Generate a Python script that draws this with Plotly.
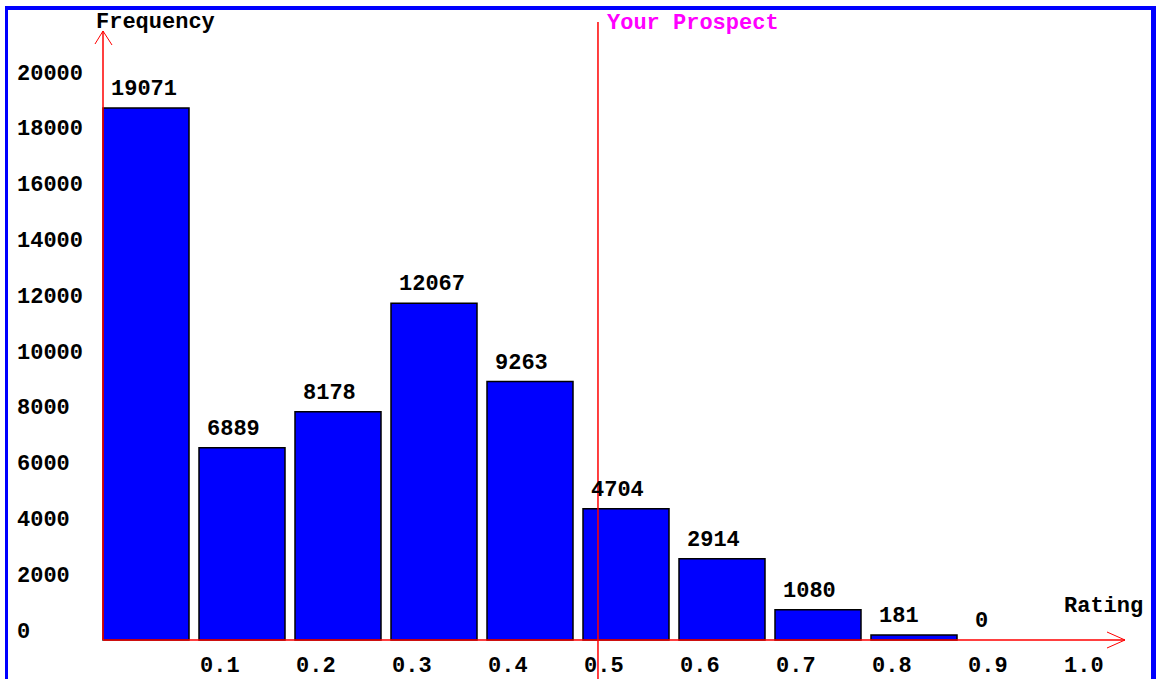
import plotly.graph_objects as go

# Rating bins (lower edge of each 0.1-wide bin) and counts per bin
bin_starts = [0.0, 0.1, 0.2, 0.3, 0.4, 0.5, 0.6, 0.7, 0.8, 0.9]
frequencies = [19071, 6889, 8178, 12067, 9263, 4704, 2914, 1080, 181, 0]

# Axis tick labels
y_ticks = [0, 2000, 4000, 6000, 8000, 10000, 12000, 14000, 16000, 18000, 20000]
x_ticks = [0.1, 0.2, 0.3, 0.4, 0.5, 0.6, 0.7, 0.8, 0.9, 1.0]
x_tick_text = ["0.1", "0.2", "0.3", "0.4", "0.5", "0.6", "0.7", "0.8", "0.9", "1.0"]

prospect_rating = 0.5156

W, H = 1156, 679
ORIGIN_PX = (103, 640)          # pixel position of the axes origin
PX_PER_RATING = 960.0           # pixels per 1.0 rating
PX_PER_COUNT = 0.0279           # pixels per unit frequency
BAR_WIDTH = 86 / PX_PER_RATING

x_range = [-ORIGIN_PX[0] / PX_PER_RATING, (W - ORIGIN_PX[0]) / PX_PER_RATING]
y_range = [-(H - ORIGIN_PX[1]) / PX_PER_COUNT, ORIGIN_PX[1] / PX_PER_COUNT]

FONT = "Liberation Mono"
FS = 22
RED = "#FF0000"

fig = go.Figure()
fig.add_trace(go.Bar(
    x=bin_starts, y=frequencies, width=BAR_WIDTH, offset=0,
    marker=dict(color="#0000FF",
                line=dict(color="#000000", width=[1.5 if v > 0 else 0 for v in frequencies])),
    hoverinfo="x+y",
))

shapes = []
# axis lines (drawn in pixels from the origin)
shapes.append(dict(type="line", xref="x", yref="y", xsizemode="pixel", ysizemode="pixel",
                   xanchor=0, yanchor=0, x0=0, x1=1022, y0=0, y1=0,
                   line=dict(color=RED, width=1.5), layer="above"))
shapes.append(dict(type="line", xref="x", yref="y", xsizemode="pixel", ysizemode="pixel",
                   xanchor=0, yanchor=0, x0=0, x1=0, y0=0, y1=609,
                   line=dict(color=RED, width=1.5), layer="above"))
# open arrow heads
shapes.append(dict(type="path", xref="x", yref="y", xsizemode="pixel", ysizemode="pixel",
                   xanchor=0, yanchor=0, path="M -8,596 L 0,609 L 9,595",
                   line=dict(color=RED, width=1), layer="above"))
shapes.append(dict(type="path", xref="x", yref="y", xsizemode="pixel", ysizemode="pixel",
                   xanchor=0, yanchor=0, path="M 1004,8 L 1022,0 L 1004,-8",
                   line=dict(color=RED, width=1), layer="above"))
# prospect marker line
shapes.append(dict(type="line", xref="x", yref="paper", x0=prospect_rating, x1=prospect_rating,
                   y0=0, y1=(H - 22) / H, line=dict(color=RED, width=1.5), layer="above"))
# blue frame
BLUE = "#0000FF"
for x0, x1, y0, y1 in [(5, 8, 6, H), (5, W, 6, 10), (1151, W, 6, H)]:
    shapes.append(dict(type="rect", xref="paper", yref="paper",
                       x0=x0 / W, x1=x1 / W, y0=1 - y1 / H, y1=1 - y0 / H,
                       fillcolor=BLUE, line=dict(width=0), layer="above"))

ann = []
# value labels above bars
for xs, v in zip(bin_starts, frequencies):
    ann.append(dict(x=xs, y=v, xref="x", yref="y", text=str(v), showarrow=False,
                    xanchor="left", yanchor="bottom", xshift=6, yshift=4,
                    font=dict(family=FONT, size=FS, color="#000000", weight="bold")))
# y tick labels
for t in y_ticks:
    ann.append(dict(x=15 / W, y=t, xref="paper", yref="y", text=str(t), showarrow=False,
                    xanchor="left", yanchor="middle", yshift=8,
                    font=dict(family=FONT, size=FS, color="#000000", weight="bold")))
# x tick labels
for t, s in zip(x_ticks, x_tick_text):
    ann.append(dict(x=t, y=(H - 666) / H, xref="x", yref="paper", text=s, showarrow=False,
                    xanchor="left", yanchor="middle", xshift=-1,
                    font=dict(family=FONT, size=FS, color="#000000", weight="bold")))
# axis titles and prospect label
ann.append(dict(x=94 / W, y=(H - 23) / H, xref="paper", yref="paper", text="Frequency",
                showarrow=False, xanchor="left", yanchor="middle",
                font=dict(family=FONT, size=FS, color="#000000", weight="bold")))
ann.append(dict(x=1062 / W, y=(H - 606) / H, xref="paper", yref="paper", text="Rating",
                showarrow=False, xanchor="left", yanchor="middle",
                font=dict(family=FONT, size=FS, color="#000000", weight="bold")))
ann.append(dict(x=prospect_rating, y=(H - 24) / H, xref="x", yref="paper", text="Your Prospect",
                showarrow=False, xanchor="left", yanchor="middle", xshift=7,
                font=dict(family=FONT, size=FS, color="#FF00FF", weight="bold")))

fig.update_layout(
    width=W, height=H,
    margin=dict(l=0, r=0, t=0, b=0),
    paper_bgcolor="#FFFFFF", plot_bgcolor="#FFFFFF",
    showlegend=False,
    xaxis=dict(range=x_range, visible=False, fixedrange=True),
    yaxis=dict(range=y_range, visible=False, fixedrange=True),
    shapes=shapes, annotations=ann,
)

fig.write_html("out.html")
